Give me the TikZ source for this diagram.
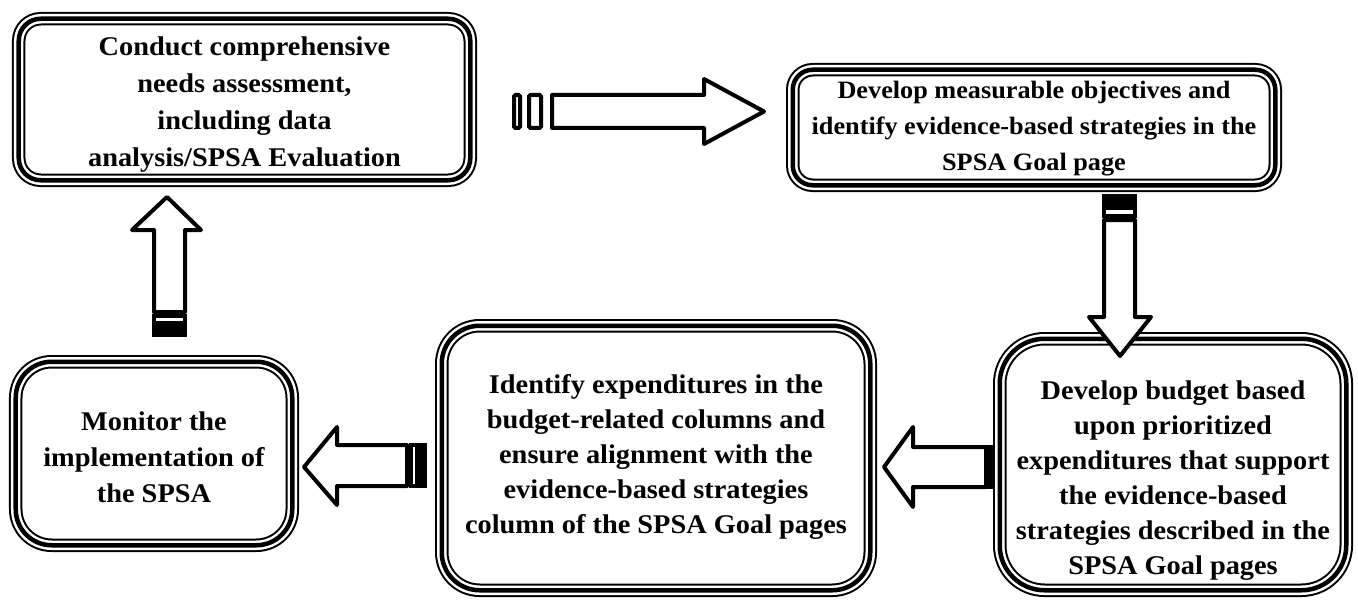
\documentclass[tikz,border=0pt]{standalone}
\usepackage{fontspec}
\setmainfont{Liberation Serif}[FakeStretch=1.05]
\begin{document}
\begin{tikzpicture}[x=1bp, y=-1bp,
  tribox/.style={draw=black, line width=13.5bp, fill=white, rounded corners=#1,
    postaction={draw=white, line width=9.5bp},
    postaction={draw=black, line width=4.5bp},
    inner sep=0pt, outer sep=0pt},
  txt/.style={align=center, inner sep=0pt, anchor=north},
  big/.style={font=\bfseries\fontsize{27bp}{35bp}\selectfont},
  blk/.style={draw=black, line width=4bp, fill=white, line join=round},
  stripe/.style={draw=black, line width=4bp, fill=white},
  solid stripe/.style={fill=black}]

\fill[white] (0,0) rectangle (1358,602);
\useasboundingbox (0,0) rectangle (1358,602);

% ---- framed boxes ----
\node[tribox=22, minimum width=451.5bp, minimum height=161.5bp] (b1) at (244.5,99.5) {};
\node[tribox=20, minimum width=482.5bp, minimum height=115.5bp] (b2) at (1034,127.5) {};
\node[tribox=45, minimum width=346.5bp, minimum height=251.5bp] (b3) at (1173,464.5) {};
\node[tribox=38, minimum width=428.5bp, minimum height=264.5bp] (b4) at (656,458) {};
\node[tribox=36, minimum width=276.5bp, minimum height=183.5bp] (b5) at (154,453.5) {};

% ---- texts ----
\node[txt, font=\bfseries\fontsize{27bp}{37bp}\selectfont] (t1) at (244.5,29.1)
  {\strut Conduct comprehensive\\ needs assessment,\\ including data\\ analysis/SPSA Evaluation};
\node[txt, font=\bfseries\fontsize{25bp}{36bp}\selectfont] (t2) at (1034,72.8)
  {\strut Develop measurable objectives and\\ identify evidence-based strategies in the\\ SPSA Goal page};
\node[txt, big] (t3) at (1173,374.5)
  {\strut Develop budget based\\ upon prioritized\\ expenditures that support\\ the evidence-based\\ strategies described in the\\ SPSA Goal pages};
\node[txt, big] (t4) at (656,368.5)
  {\strut Identify expenditures in the\\ budget-related columns and\\ ensure alignment with the\\ evidence-based strategies\\ column of the SPSA Goal pages};
\node[txt, font=\bfseries\fontsize{27bp}{36bp}\selectfont] (t5) at (154,404.8)
  {\strut Monitor the\\ implementation of\\ the SPSA};

% ---- striped block arrows ----
% b1 -> b2
\draw[stripe, rounded corners=1.5bp] (514,95) rectangle (520,128);
\draw[stripe, rounded corners=1.5bp] (529,95) rectangle (541,128);
\draw[blk] (552,95) -- (704,95) -- (704,79) -- (764,111.5) -- (704,144) -- (704,128) -- (552,128) -- cycle;

% b2 -> b3
\fill[solid stripe] (1102,194) rectangle (1137,206);
\draw[stripe] (1104,208) rectangle (1135,216);
\draw[blk] (1104,220) -- (1135,220) -- (1135,317) -- (1151,317) -- (1120,356) -- (1089,317) -- (1104,317) -- cycle;

% b3 -> b4
\draw[blk] (986,447) -- (913,447) -- (913,427) -- (884,467) -- (913,507) -- (913,487) -- (986,487) -- cycle;
\fill[solid stripe] (985,445) rectangle (995,489);

% b4 -> b5
\draw[blk] (407,445) -- (337,445) -- (337,427) -- (304,467) -- (337,505) -- (337,486) -- (407,486) -- cycle;
\draw[stripe] (411,445) rectangle (417,486);
\fill[solid stripe] (418,443) rectangle (427,488);

% b5 -> b1
\draw[blk] (154,312) -- (154,230) -- (132,230) -- (167,197) -- (201,230) -- (185,230) -- (185,312) -- cycle;
\draw[stripe] (154,316) rectangle (185,323);
\fill[solid stripe] (152,325) rectangle (187,337);

\end{tikzpicture}
\end{document}
